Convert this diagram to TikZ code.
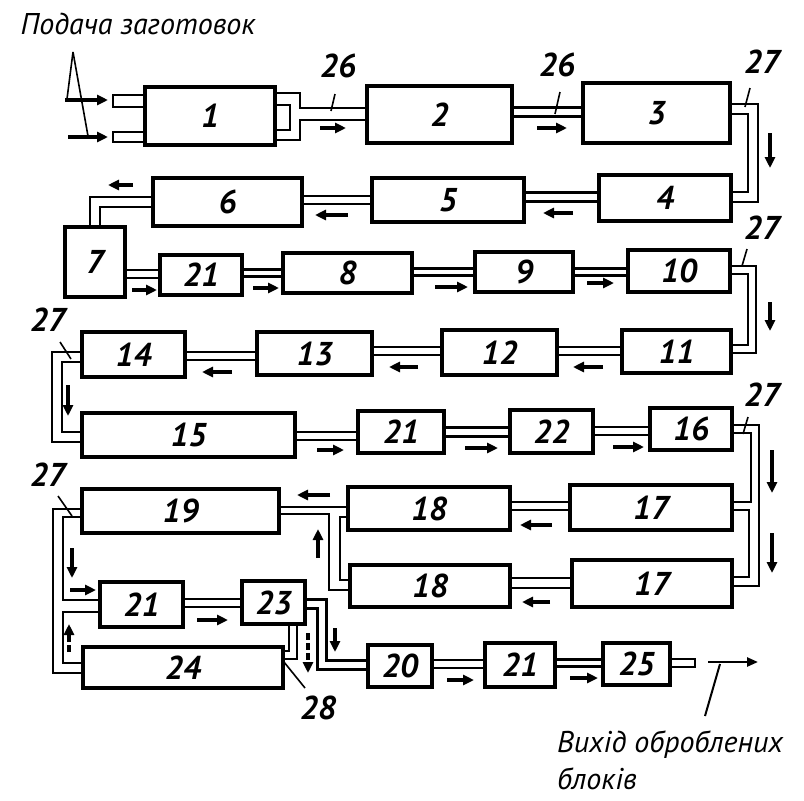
\documentclass[tikz,border=0pt]{standalone}
\usepackage{fontspec}
\setmainfont{PT Sans}
\usetikzlibrary{arrows.meta,backgrounds}
\newcommand\bx[6]{\node[blk,minimum width=#4pt-#2pt,minimum height=#5pt-#3pt] (#1) at ({(#2+#4)/2},{(#3+#5)/2}) {#6};}
\begin{document}
\begin{tikzpicture}[x=1pt,y=-1pt,
  blk/.style={draw,line width=3.2pt,inner sep=0pt,font=\fontsize{33}{33}\selectfont\bfseries\itshape},
  tube/.style={draw,line width=2.4pt,double,double distance between line centers=#1},
  tube/.default=8pt,
  pipe/.style={line width=2.4pt},
  flow/.style={line width=3.4pt,-{Triangle[length=11pt,width=10pt]}},
  dflow/.style={line width=3.4pt,dash pattern=on 7pt off 3pt,-{Triangle[length=11pt,width=10pt]}},
  lead/.style={line width=1.6pt},
  num/.style={font=\fontsize{33}{33}\selectfont\bfseries\itshape,inner sep=0pt},
  txt/.style={font=\fontsize{30}{30}\selectfont\itshape,inner sep=0pt}
]
\useasboundingbox (0,0) rectangle (804,801);

% boxes
\bx{b1}{145}{87}{275}{145}{1}
\bx{b2}{367}{86}{512}{143}{2}
\bx{b3}{583}{83}{730}{143}{3}
\bx{b4}{599}{175}{731}{221}{4}
\bx{b5}{372}{178}{524}{222}{5}
\bx{b6}{153}{178}{302}{226}{6}
\bx{b7}{65}{227}{125}{297}{7}
\bx{b21a}{160}{255}{242}{295}{21}
\bx{b8}{283}{253}{412}{293}{8}
\bx{b9}{475}{252}{573}{292}{9}
\bx{b10}{628}{250}{730}{292}{10}
\bx{b11}{622}{330}{731}{373}{11}
\bx{b12}{442}{330}{557}{375}{12}
\bx{b13}{257}{332}{372}{375}{13}
\bx{b14}{82}{332}{185}{377}{14}
\bx{b15}{82}{413}{295}{457}{15}
\bx{b21b}{358}{411}{444}{453}{21}
\bx{b22}{510}{410}{593}{453}{22}
\bx{b16}{650}{408}{732}{450}{16}
\bx{b17a}{570}{485}{732}{530}{17}
\bx{b18a}{348}{487}{510}{530}{18}
\bx{b17b}{572}{560}{732}{607}{17}
\bx{b18b}{350}{565}{510}{607}{18}
\bx{b19}{82}{489}{279}{533}{19}
\bx{b21c}{100}{582}{183}{627}{21}
\bx{b23}{242}{581}{305}{624}{23}
\bx{b24}{83}{647}{283}{688}{24}
\bx{b20}{368}{645}{432}{687}{20}
\bx{b21d}{485}{643}{555}{687}{21}
\bx{b25}{603}{643}{670}{685}{25}

\begin{pgfonlayer}{background}
% input stubs of 1
\draw[pipe] (b1.west|-0,95) -- (113,95) -- (113,107) -- (b1.west|-0,107);
\draw[pipe] (b1.west|-0,132) -- (113,132) -- (113,142) -- (b1.west|-0,142);
% loop 1 -> 2
\draw[pipe] (b1.east|-0,93) -- (300,93) -- (300,108) -- (b2.west|-0,108);
\draw[pipe] (b2.west|-0,120) -- (300,120) -- (300,140) -- (b1.east|-0,140);
\draw[pipe] (b1.east|-0,105) -- (290,105) -- (290,130) -- (b1.east|-0,130);
% row 1
\draw[tube=9pt] (b2.east|-0,112) -- (b3.west|-0,112);
\draw[tube=10pt] (b3.east|-0,109) -- (753,109) -- (753,197) -- (b4.east|-0,197);
% row 2
\draw[tube=9pt] (b4.west|-0,197) -- (b5.east|-0,197);
\draw[tube=8pt] (b5.west|-0,200) -- (b6.east|-0,200);
\draw[tube=10pt] (b6.west|-0,202) -- (95,202) -- (b7.north-|95,0);
% row 3
\draw[tube=8pt] (b7.east|-0,274) -- (b21a.west|-0,274);
\draw[tube=7pt] (b21a.east|-0,273) -- (b8.west|-0,273);
\draw[tube=7pt] (b8.east|-0,272) -- (b9.west|-0,272);
\draw[tube=7pt] (b9.east|-0,272) -- (b10.west|-0,272);
\draw[tube=8pt] (b10.east|-0,270) -- (752,270) -- (752,349) -- (b11.east|-0,349);
% row 4
\draw[tube=8pt] (b11.west|-0,351) -- (b12.east|-0,351);
\draw[tube=8pt] (b12.west|-0,351) -- (b13.east|-0,351);
\draw[tube=8pt] (b13.west|-0,356) -- (b14.east|-0,356);
\draw[tube=10pt] (b14.west|-0,357) -- (57,357) -- (57,437) -- (b15.west|-0,437);
% row 5
\draw[tube=8pt] (b15.east|-0,436) -- (b21b.west|-0,436);
\draw[tube=9pt] (b21b.east|-0,432) -- (b22.west|-0,432);
\draw[tube=8pt] (b22.east|-0,431) -- (b16.west|-0,431);
% 16 -> 17, 17
\draw[pipe] (b16.east|-0,425) -- (759,425) -- (759,586) -- (b17b.east|-0,586);
\draw[pipe] (b16.east|-0,433) -- (751,433) -- (751,502) -- (b17a.east|-0,502);
\draw[pipe] (b17a.east|-0,510) -- (749,510) -- (749,577) -- (b17b.east|-0,577);
% 17 -> 18
\draw[tube=8pt] (b17a.west|-0,506) -- (b18a.east|-0,506);
\draw[tube=10pt] (b17b.west|-0,583) -- (b18b.east|-0,583);
% 18, 18 -> 19
\draw[pipe] (b18a.west|-0,507) -- (b19.east|-0,507);
\draw[pipe] (b19.east|-0,514) -- (329,514) -- (329,590) -- (b18b.west|-0,590);
\draw[pipe] (b18a.west|-0,517) -- (340,517) -- (340,580) -- (b18b.west|-0,580);
% 19 -> 21, 24
\draw[pipe] (b19.west|-0,509) -- (53,509) -- (53,673) -- (b24.west|-0,673);
\draw[pipe] (b19.west|-0,517) -- (63,517) -- (63,600) -- (b21c.west|-0,600);
\draw[pipe] (b21c.west|-0,612) -- (63,612) -- (63,663) -- (b24.west|-0,663);
% bottom rows
\draw[tube=8pt] (b21c.east|-0,603) -- (b23.west|-0,603);
\draw[tube=9pt] (b23.east|-0,604) -- (322,604) -- (322,665) -- (b20.west|-0,665);
\draw[tube=8pt] (b23.south-|293,0) -- (293,655) -- (b24.east|-0,655);
\draw[tube=8pt] (b20.east|-0,664) -- (b21d.west|-0,664);
\draw[tube=7pt] (b21d.east|-0,663) -- (b25.west|-0,663);
\draw[pipe] (b25.east|-0,659) -- (695,659) -- (695,667) -- (b25.east|-0,667);
\end{pgfonlayer}

% flow arrows
\draw[flow] (65,100) -- (108,100);
\draw[flow] (68,137) -- (108,137);
\draw[flow] (320,128) -- (346,128);
\draw[flow] (537,128) -- (567,128);
\draw[flow] (770,133) -- (770,168);
\draw[flow] (573,213) -- (543,213);
\draw[flow] (348,215) -- (315,215);
\draw[flow] (133,185) -- (108,185);
\draw[flow] (132,290) -- (157,290);
\draw[flow] (253,288) -- (279,288);
\draw[flow] (435,287) -- (468,287);
\draw[flow] (587,283) -- (614,283);
\draw[flow] (770,302) -- (770,331);
\draw[flow] (603,367) -- (573,367);
\draw[flow] (418,367) -- (389,367);
\draw[flow] (232,372) -- (202,372);
\draw[flow] (68,385) -- (68,416);
\draw[flow] (317,450) -- (344,450);
\draw[flow] (465,448) -- (498,448);
\draw[flow] (613,447) -- (644,447);
\draw[flow] (772,450) -- (772,493);
\draw[flow] (772,533) -- (772,573);
\draw[flow] (552,525) -- (520,525);
\draw[flow] (550,602) -- (522,602);
\draw[flow] (330,495) -- (297,495);
\draw[flow] (318,558) -- (318,529);
\draw[flow] (72,548) -- (72,578);
\draw[flow] (70,590) -- (96,590);
\draw[dflow] (69,652) -- (69,624);
\draw[flow] (197,620) -- (228,620);
\draw[flow] (335,628) -- (335,652);
\draw[dflow] (308,633) -- (308,673);
\draw[flow] (447,680) -- (474,680);
\draw[flow] (570,678) -- (598,678);
\draw[line width=2.4pt,-{Triangle[length=11pt,width=9pt]}] (708,662) -- (758,662);

% leaders and labels
\draw[lead] (73,52) -- (67,99);
\draw[lead] (73,52) -- (88,136);
\node[num] (l26a) at (338,66) {26};
\draw[lead] (335,94) -- (331,111);
\node[num] (l26b) at (557,65) {26};
\draw[lead] (560,92) -- (555,114);
\node[num] (l27a) at (762,62) {27};
\draw[lead] (750,88) -- (745,107);
\node[num] (l27b) at (762,228) {27};
\draw[lead] (747,249) -- (742,266);
\node[num] (l27c) at (48,320) {27};
\draw[lead] (60,342) -- (71,359);
\node[num] (l27d) at (762,395) {27};
\draw[lead] (748,417) -- (743,434);
\node[num] (l27e) at (48,475) {27};
\draw[lead] (58,496) -- (72,516);
\node[num] (l28) at (318,708) {28};
\draw[lead] (305,688) -- (284,662);
\draw[line width=2pt] (720,664) -- (705,716);

\node[txt] (tin) at (138,24) {Подача заготовок};
\node[txt,anchor=west] (tout1) at (557,745) {Вихід оброблених};
\node[txt,anchor=west] (tout2) at (557,779) {блоків};
\end{tikzpicture}
\end{document}
